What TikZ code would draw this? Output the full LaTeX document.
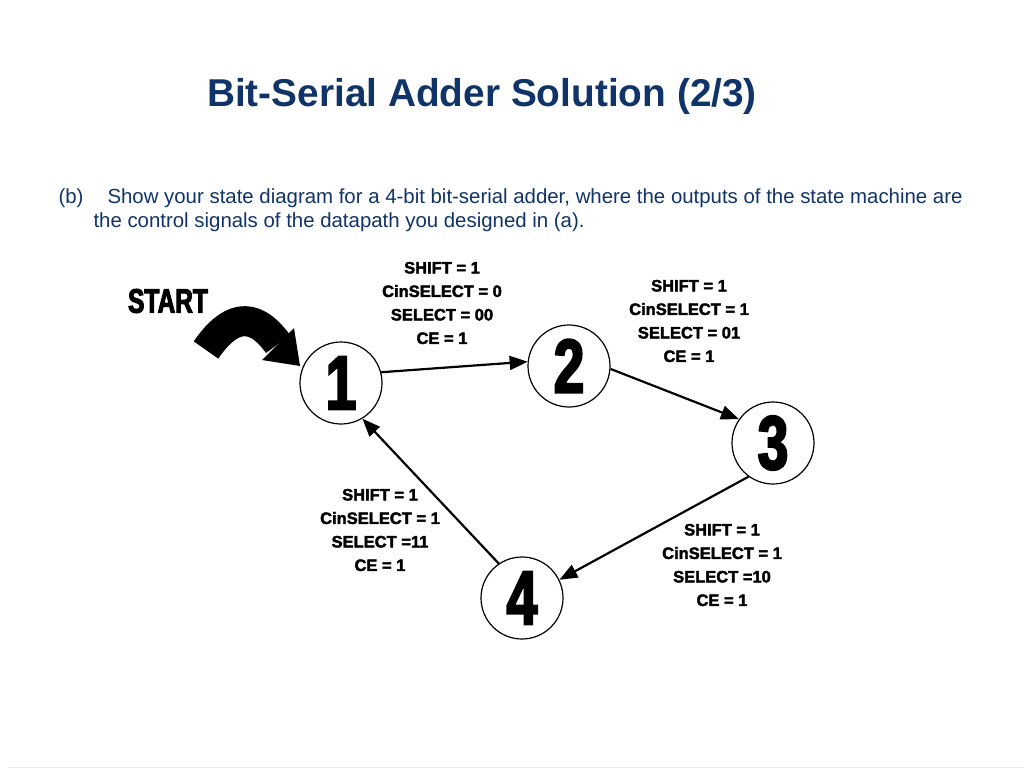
\documentclass[tikz,border=0pt]{standalone}
\usepackage{fontspec}
\setmainfont{Liberation Sans}
\newfontfamily\heavyfont{Liberation Sans Bold}[FakeBold=2.3]
\newfontfamily\numfont{Liberation Sans Bold}[FakeBold=3,FakeStretch=0.72]
\usetikzlibrary{arrows.meta}
\definecolor{navy}{RGB}{16,52,104}

\begin{document}
\begin{tikzpicture}[x=1pt,y=-1pt,
    statenode/.style={circle, draw, line width=1.2pt, minimum size=82pt, inner sep=0pt,
      font=\numfont\fontsize{76}{76}\selectfont},
    outs/.style={align=center, font=\heavyfont\fontsize{16.5}{23.5}\selectfont},
    trans/.style={line width=2.2pt, -{Triangle[length=18pt,width=14pt]}},
    body/.style={anchor=base west, text=navy, font=\fontsize{20.4}{24}\selectfont}]
      \def\bandw{30pt}

      \useasboundingbox (0,0) rectangle (1024,768);
      \fill[white] (0,0) rectangle (1024,768);

      % title and question
      \node[anchor=base, text=navy, font=\bfseries\fontsize{38.8}{38.8}\selectfont] (title) at (482,106) {Bit-Serial Adder Solution (2/3)};
      \node[body] (qb) at (55,203) {(b)};
      \node[body] (q1) at (104,203) {Show your state diagram for a 4-bit bit-serial adder, where the outputs of the state machine are};
      \node[body] (q2) at (90,227) {the control signals of the datapath you designed in (a).};

      % states
      \node[statenode] (n1) at (341,383) {1};
      \node[statenode] (n2) at (569,366) {2};
      \node[statenode] (n3) at (773,443) {3};
      \node[statenode] (n4) at (522,598) {4};

      % outputs
      \node[outs] (o1) at (442,303) {SHIFT = 1\\CinSELECT = 0\\SELECT = 00\\CE = 1};
      \node[outs] (o2) at (689,321) {SHIFT = 1\\CinSELECT = 1\\SELECT = 01\\CE = 1};
      \node[outs] (o4) at (380,530) {SHIFT = 1\\CinSELECT = 1\\SELECT =11\\CE = 1};
      \node[outs] (o3) at (722,565) {SHIFT = 1\\CinSELECT = 1\\SELECT =10\\CE = 1};

      % transitions
      \draw[trans] (n1.15) -- (n2.174);
      \draw[trans] (n2.-4) -- (n3.145);
      \draw[trans] (n3.234) -- (n4.26);
      \draw[trans] (n4.124) -- (n1.-59);

      % start arrow
      \node[font=\numfont\fontsize{34}{34}\selectfont] (start) at (168,301) {START};
      \coordinate (tail) at (206,350);
      \coordinate (neck) at (278,344);
      \draw[line width=\bandw] (tail) .. controls (228,318) and (252,308) .. (neck);
      \fill (262,360) -- (300,366) -- (294,328) -- cycle;

      \draw[black!8, line width=1pt] (8,767) -- (1024,767);

\end{tikzpicture}
\end{document}
